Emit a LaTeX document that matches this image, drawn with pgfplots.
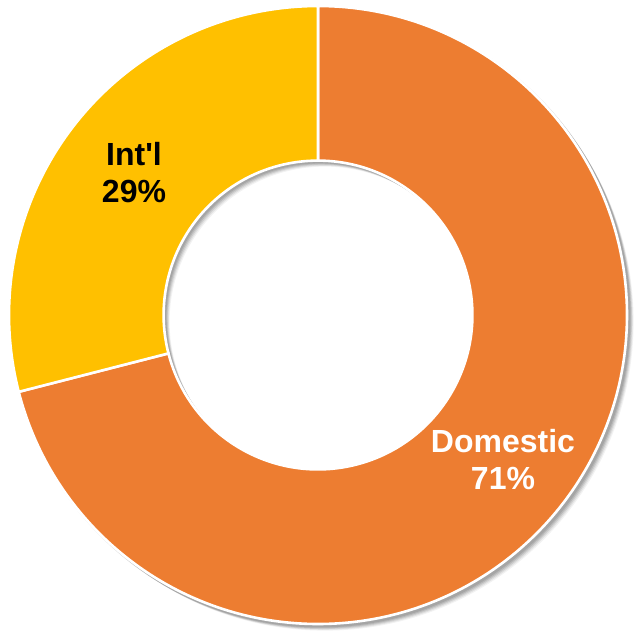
\documentclass[border=0pt]{standalone}
\usepackage{pgfplots}
\pgfplotsset{compat=1.18}
\usepackage{pgfplotstable}
\usepackage{fontspec}
\setmainfont{Liberation Sans}
\usetikzlibrary{calc}
\definecolor{dom}{HTML}{ED7D31}
\definecolor{intl}{HTML}{FFC000}
\pgfplotstableread{
label value
Domestic 71
Intl 29
}\shares
\begin{document}
\begin{tikzpicture}
\pgfplotstablegetelem{0}{value}\of\shares \let\vdom\pgfplotsretval
\pgfplotstablegetelem{1}{value}\of\shares \let\vint\pgfplotsretval
\pgfmathsetmacro\aA{90}
\pgfmathsetmacro\aB{90-3.6*\vdom}
\pgfmathsetmacro\aC{\aB-3.6*\vint}
\begin{axis}[scale only axis, width=317pt, height=316.5pt,
  xmin=0, xmax=634, ymin=0, ymax=633, y dir=reverse,
  hide axis, clip=false]
\coordinate (bl) at (axis cs:0,633);
\coordinate (tr) at (axis cs:634,0);
\coordinate (c) at (axis cs:318,315);
% soft shadow
\fill[black,opacity=0.10,even odd rule] ($(c)+(1.0pt,-1.0pt)$) circle[radius=155.2pt] ($(c)+(1.0pt,-1.0pt)$) circle[radius=76.8pt];
\fill[black,opacity=0.10,even odd rule] ($(c)+(1.6pt,-1.6pt)$) circle[radius=155.0pt] ($(c)+(1.6pt,-1.6pt)$) circle[radius=77.0pt];
\fill[black,opacity=0.09,even odd rule] ($(c)+(2.2pt,-2.2pt)$) circle[radius=154.8pt] ($(c)+(2.2pt,-2.2pt)$) circle[radius=77.2pt];
\fill[black,opacity=0.07,even odd rule] ($(c)+(2.8pt,-2.8pt)$) circle[radius=154.6pt] ($(c)+(2.8pt,-2.8pt)$) circle[radius=77.4pt];
\fill[black,opacity=0.05,even odd rule] ($(c)+(3.4pt,-3.4pt)$) circle[radius=154.4pt] ($(c)+(3.4pt,-3.4pt)$) circle[radius=77.6pt];
% wedges
\filldraw[fill=dom, draw=white, line width=1.3pt]
  ($(c)+(\aA:154.5pt)$) arc[start angle=\aA, end angle=\aB, radius=154.5pt]
  -- ($(c)+(\aB:77.2pt)$) arc[start angle=\aB, end angle=\aA, radius=77.2pt] -- cycle;
\filldraw[fill=intl, draw=white, line width=1.3pt]
  ($(c)+(\aB:154.5pt)$) arc[start angle=\aB, end angle=\aC, radius=154.5pt]
  -- ($(c)+(\aC:77.2pt)$) arc[start angle=\aC, end angle=\aB, radius=77.2pt] -- cycle;
% labels
\node[align=center, text=white, font=\fontsize{16}{18.5}\selectfont\bfseries] at (axis cs:503,460) {Domestic\\71\%};
\node[align=center, text=black, font=\fontsize{16}{18.5}\selectfont\bfseries] at (axis cs:134,173) {Int\textquotesingle l\\29\%};
\end{axis}
\pgfresetboundingbox
\path[use as bounding box] (bl) rectangle (tr);
\end{tikzpicture}
\end{document}
